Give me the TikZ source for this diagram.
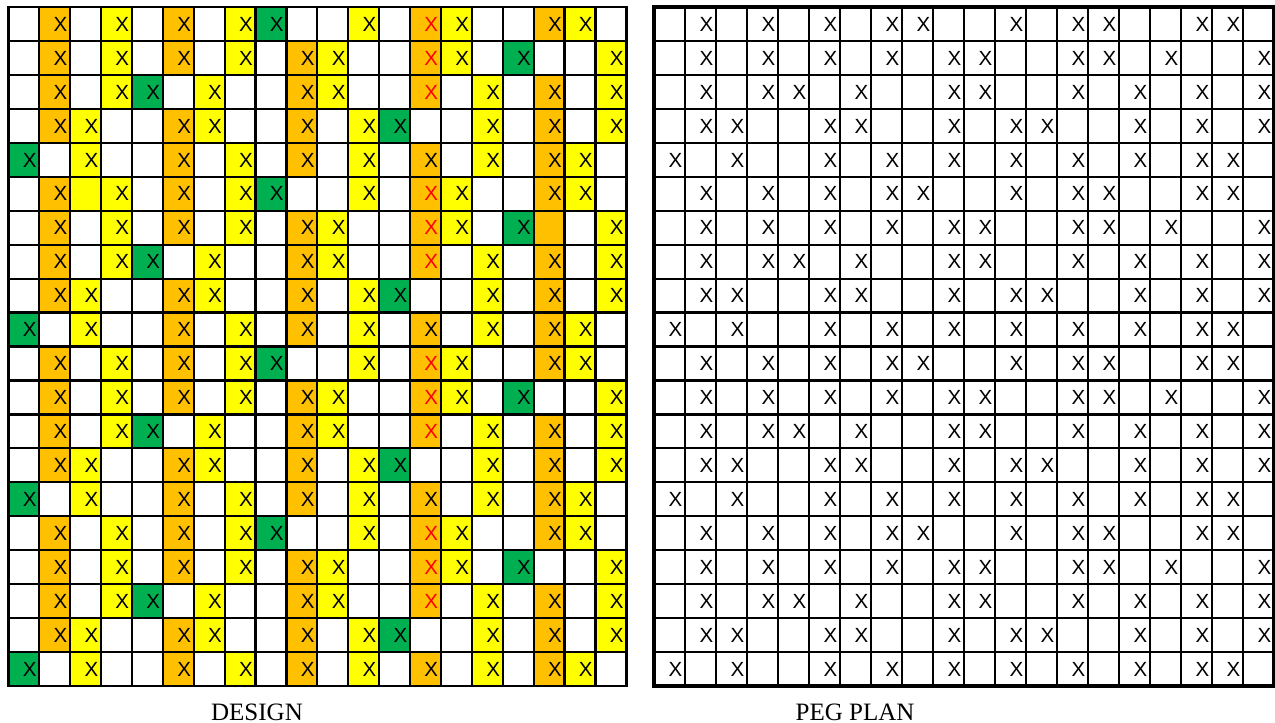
\documentclass[tikz,border=0pt]{standalone}
\usepackage{fontspec}
\setmainfont{Liberation Serif}
\newfontfamily\cellfont{Liberation Sans}
\definecolor{xorange}{RGB}{255,192,0}
\definecolor{xyellow}{RGB}{255,255,0}
\definecolor{xgreen}{RGB}{0,176,80}

\newcommand\cellw{30.9}
\newcommand\pcellw{31}
\newcommand\cellh{33.95}
\newcommand\gtop{7}
\newcommand\dleft{8.3}
\newcommand\pleft{654}

% w empty, o/y/g coloured with X, r orange with red X, O/Y coloured without X
\newcommand\rowA{w,o,w,y,w,o,w,y,g,w,w,y,w,r,y,w,w,o,y,w}
\newcommand\rowB{w,o,w,y,w,o,w,y,w,o,y,w,w,r,y,w,g,w,w,y}
\newcommand\rowC{w,o,w,y,g,w,y,w,w,o,y,w,w,r,w,y,w,o,w,y}
\newcommand\rowD{w,o,y,w,w,o,y,w,w,o,w,y,g,w,w,y,w,o,w,y}
\newcommand\rowE{g,w,y,w,w,o,w,y,w,o,w,y,w,o,w,y,w,o,y,w}
\newcommand\rowF{w,o,Y,y,w,o,w,y,g,w,w,y,w,r,y,w,w,o,y,w}
\newcommand\rowG{w,o,w,y,w,o,w,y,w,o,y,w,w,r,y,w,g,O,w,y}

\tikzset{
  cellbox/.style={anchor=north west, minimum width=\cellw pt, minimum height=\cellh pt,
    inner sep=0pt, text width=25pt, align=right, font=\cellfont\fontsize{20.5}{24}\selectfont},
  des-w/.style={node contents={}},
  des-o/.style={fill=xorange, node contents=X},
  des-y/.style={fill=xyellow, node contents=X},
  des-g/.style={fill=xgreen, node contents=X},
  des-r/.style={fill=xorange, text=red, node contents=X},
  des-O/.style={fill=xorange, node contents={}},
  des-Y/.style={fill=xyellow, node contents={}},
  peg-w/.style={node contents={}},
  peg-o/.style={node contents=X},
  peg-y/.style={node contents=X},
  peg-g/.style={node contents=X},
  peg-r/.style={node contents=X},
  peg-O/.style={node contents={}},
  peg-Y/.style={node contents={}},
  gridline/.style={line width=2.2pt},
  captiontext/.style={anchor=base, inner sep=0pt, font=\fontsize{25}{30}\selectfont}
}

\newcommand\designrow[2]{%
  \foreach \k [count=\cn] in #1 {
    \node (d\cn-#2) at ({\dleft+(\cn-1)*\cellw},{\gtop+(#2-1)*\cellh}) [cellbox, des-\k];
  }}
\newcommand\pegrow[2]{%
  \foreach \k [count=\cn] in #1 {
    \node (p\cn-#2) at ({\pleft+(\cn-1)*\pcellw},{\gtop+(#2-1)*\cellh}) [cellbox, minimum width=\pcellw pt, peg-\k];
  }}

\begin{document}
\begin{tikzpicture}[x=1pt,y=-1pt]
\useasboundingbox (0,0) rectangle (1275,723);

\foreach \pat [count=\rn] in {\rowA,\rowB,\rowC,\rowD,\rowE,\rowF,\rowG,\rowC,\rowD,\rowE,
                              \rowA,\rowB,\rowC,\rowD,\rowE,\rowA,\rowB,\rowC,\rowD,\rowE} {
  \expandafter\designrow\expandafter{\pat}{\rn}
  \expandafter\pegrow\expandafter{\pat}{\rn}
}

\foreach \i in {0,...,20} {
  \draw[gridline] ({\dleft+\i*\cellw},\gtop) -- ({\dleft+\i*\cellw},{\gtop+20*\cellh});
  \draw[gridline] (\dleft,{\gtop+\i*\cellh}) -- ({\dleft+20*\cellw},{\gtop+\i*\cellh});
  \draw[gridline] ({\pleft+\i*\pcellw},\gtop) -- ({\pleft+\i*\pcellw},{\gtop+20*\cellh});
  \draw[gridline] (\pleft,{\gtop+\i*\cellh}) -- ({\pleft+20*\pcellw},{\gtop+\i*\cellh});
}
\draw[line width=2.6pt] (\dleft,\gtop) rectangle ({\dleft+20*\cellw},{\gtop+20*\cellh});
\draw[line width=3.4pt] (\pleft,\gtop) rectangle ({\pleft+20*\pcellw},{\gtop+20*\cellh});

\node (design) [captiontext] at (257,720) {DESIGN};
\node (pegplan) [captiontext] at (855,720) {PEG PLAN};
\end{tikzpicture}
\end{document}
